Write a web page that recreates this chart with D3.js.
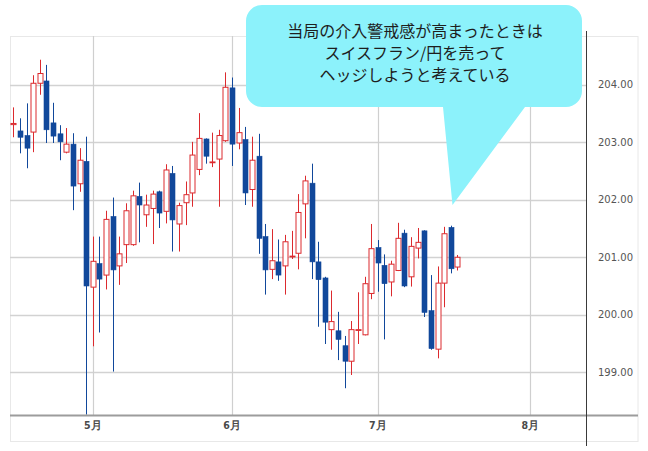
<!DOCTYPE html>
<html>
<head>
<meta charset="utf-8">
<script src="https://cdn.jsdelivr.net/npm/d3@7"></script>
<style>
  body { margin: 0; background: #fff; }
  svg { display: block; }
</style>
</head>
<body>
<svg id="chart" width="648" height="451"></svg>
<script>
// daily candles, index 0 = first candle on the left
const open  = [203.31,203.20,203.12,203.18,204.03,204.07,203.34,203.15,202.83,202.97,202.28,202.67,200.48,200.89,200.69,201.71,200.85,
               201.22,201.22,202.06,201.74,201.85,202.14,201.80,202.46,201.58,201.95,202.12,202.53,203.06,202.65,202.71,203.03,
               203.95,202.99,203.05,202.18,202.76,201.36,200.79,200.92,200.85,201.01,201.07,201.93,202.29,200.92,200.64,199.74,
               199.72,199.46,199.19,199.73,199.65,200.37,201.17,200.86,200.57,200.77,201.42,200.66,201.16,201.46,200.07,199.40,
               200.55,201.52,200.83];
const high  = [203.61,203.42,203.68,204.17,204.44,204.35,203.69,203.30,203.25,203.16,202.90,203.10,201.36,201.36,201.81,202.04,201.36,
               201.94,202.16,202.30,202.09,202.16,202.16,202.62,202.59,201.95,202.32,203.01,203.51,203.07,203.17,203.22,204.22,
               204.13,203.60,203.27,203.10,203.15,201.58,201.49,201.31,201.39,201.46,202.10,202.42,202.63,201.27,200.66,200.42,
               200.05,199.63,199.89,200.39,200.66,201.58,201.30,201.05,200.94,201.60,201.48,201.35,201.51,201.47,200.69,200.84,
               201.53,201.55,201.04];
const low   = [203.09,202.81,202.55,202.83,203.83,202.99,202.99,202.69,202.81,201.82,202.14,198.26,199.45,199.69,200.44,199.01,200.52,
               200.90,201.20,201.26,201.53,201.23,201.51,201.59,201.10,201.10,201.56,201.88,202.43,202.63,202.57,201.88,203.01,
               202.59,202.88,201.91,201.88,201.06,200.35,200.62,200.59,200.35,200.97,200.79,201.33,200.62,199.79,199.49,199.39,
               199.21,198.72,198.95,199.49,199.64,200.27,200.40,199.57,200.32,200.76,200.48,200.49,200.98,199.96,199.39,199.24,
               200.13,200.72,200.77];
const close = [203.33,203.09,202.90,204.03,204.20,203.22,203.11,203.01,202.97,202.24,202.69,200.50,200.93,200.62,201.66,200.78,201.06,
               201.81,202.07,201.91,201.91,202.10,201.77,202.52,201.65,201.90,202.09,202.78,203.07,202.76,202.66,203.12,203.96,
               202.97,203.17,202.12,202.69,201.33,200.78,200.94,200.69,201.27,201.02,201.78,202.33,200.92,200.61,199.87,199.88,
               199.57,199.19,199.74,199.74,200.54,201.15,200.90,200.54,200.88,201.33,200.50,201.19,201.26,200.04,199.41,200.55,
               201.41,200.80,201.00];

const monthIndex  = [12, 33, 55, 78];
const monthLabels = ["5月", "6月", "7月", "8月"];
const priceTicks  = [199, 200, 201, 202, 203, 204];
const noteLines   = ["当局の介入警戒感が高まったときは", "スイスフラン/円を売って", "ヘッジしようと考えている"];

const candles = open.map((o, i) => ({ i, o, h: high[i], l: low[i], c: close[i] }));

const svg = d3.select("#chart");
const plot = { left: 10, right: 586, top: 36, bottom: 415.5 };
const frameRight = 638, frameBottom = 441;

const x = d3.scaleLinear().domain([-0.5, 86.4]).range([plot.left, plot.right]);
const y = d3.scaleLinear().domain([198.245, 204.853]).range([plot.bottom, plot.top]);

const up = "#dc2a2e", down = "#11489b";

// outer frame
svg.append("rect")
    .attr("x", 10.5).attr("y", plot.top + 0.5)
    .attr("width", frameRight - 10.5).attr("height", frameBottom - plot.top)
    .attr("fill", "#fff").attr("stroke", "#e8e8e8");

// grid
svg.append("g").selectAll("line")
    .data(priceTicks)
    .join("line")
    .attr("x1", plot.left).attr("x2", plot.right)
    .attr("y1", d => Math.round(y(d)) + 0.5).attr("y2", d => Math.round(y(d)) + 0.5)
    .attr("stroke", "#d2d2d2").attr("stroke-width", 1.3);

svg.append("g").selectAll("line")
    .data(monthIndex)
    .join("line")
    .attr("x1", d => Math.round(x(d)) + 0.5).attr("x2", d => Math.round(x(d)) + 0.5)
    .attr("y1", plot.top).attr("y2", plot.bottom)
    .attr("stroke", "#cfcfcf").attr("stroke-width", 1.2);

// candles
const bodyW = 5;
const g = svg.append("g");
g.selectAll(".wick")
    .data(candles)
    .join("line")
    .attr("class", "wick")
    .attr("x1", d => Math.round(x(d.i)) + 0.5).attr("x2", d => Math.round(x(d.i)) + 0.5)
    .attr("y1", d => y(d.h)).attr("y2", d => y(d.l))
    .attr("stroke", d => d.c >= d.o ? up : down);

g.selectAll(".body")
    .data(candles)
    .join("rect")
    .attr("class", "body")
    .attr("x", d => Math.round(x(d.i)) + 0.5 - bodyW / 2)
    .attr("y", d => y(Math.max(d.o, d.c)))
    .attr("width", bodyW)
    .attr("height", d => Math.max(0.8, Math.abs(y(d.o) - y(d.c))))
    .attr("fill", d => d.c >= d.o ? "#fff" : down)
    .attr("stroke", d => d.c >= d.o ? up : down)
    .attr("stroke-width", d => d.c >= d.o ? 1 : 0.6);

// bottom axis line and right separator
svg.append("line")
    .attr("x1", plot.left).attr("x2", frameRight)
    .attr("y1", plot.bottom).attr("y2", plot.bottom)
    .attr("stroke", "#9c9c9c").attr("stroke-width", 2);

svg.append("line")
    .attr("x1", plot.right + 0.5).attr("x2", plot.right + 0.5)
    .attr("y1", 31).attr("y2", 446)
    .attr("stroke", "#3a3a3a").attr("stroke-width", 1);

// tick labels
svg.append("g").selectAll("text")
    .data(priceTicks)
    .join("text")
    .attr("x", 598).attr("y", d => y(d))
    .attr("dy", "0.35em")
    .attr("font-family", "DejaVu Sans, sans-serif")
    .attr("font-size", 10)
    .attr("fill", "#555")
    .text(d => d3.format(".2f")(d));

svg.append("g").selectAll("text")
    .data(monthIndex)
    .join("text")
    .attr("x", d => x(d)).attr("y", 429)
    .attr("text-anchor", "middle")
    .attr("font-family", "DejaVu Sans Condensed, DejaVu Sans, sans-serif")
    .attr("font-size", 10.5)
    .attr("font-weight", "bold")
    .attr("fill", "#4a4a4a")
    .text((d, i) => monthLabels[i]);

// speech bubble
const bx0 = 246, bx1 = 582, by0 = 5, by1 = 107, r = 16;
const tip = [452.5, 205], baseL = 443, baseR = 525;
const bubble = d3.path();
bubble.moveTo(bx0 + r, by0);
bubble.lineTo(bx1 - r, by0);
bubble.arcTo(bx1, by0, bx1, by0 + r, r);
bubble.lineTo(bx1, by1 - r);
bubble.arcTo(bx1, by1, bx1 - r, by1, r);
bubble.lineTo(baseR, by1);
bubble.lineTo(tip[0], tip[1]);
bubble.lineTo(baseL, by1);
bubble.lineTo(bx0 + r, by1);
bubble.arcTo(bx0, by1, bx0, by1 - r, r);
bubble.lineTo(bx0, by0 + r);
bubble.arcTo(bx0, by0, bx0 + r, by0, r);
bubble.closePath();

svg.append("path")
    .attr("d", bubble.toString())
    .attr("fill", "#8cf2fb");

svg.append("g").selectAll("text")
    .data(noteLines)
    .join("text")
    .attr("x", 415).attr("y", (d, i) => 37 + i * 22)
    .attr("text-anchor", "middle")
    .attr("font-family", "Noto Sans CJK JP, sans-serif")
    .attr("font-size", 16)
    .attr("fill", "#1e1e1e")
    .text(d => d);
</script>
</body>
</html>
